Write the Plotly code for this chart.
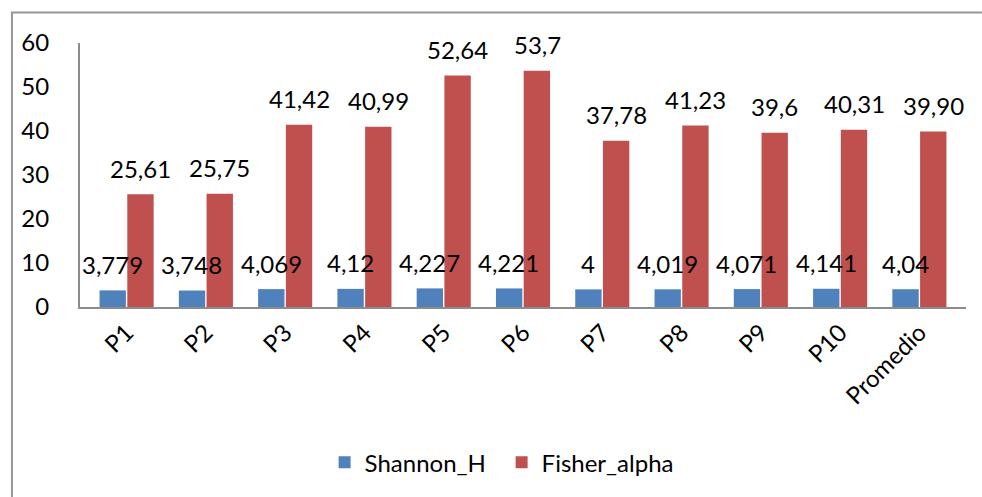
import plotly.graph_objects as go

# Diversity indices per sampling plot (labels use decimal comma)
categories = ["P1", "P2", "P3", "P4", "P5", "P6", "P7", "P8", "P9", "P10", "Promedio"]
shannon_labels = ["3,779", "3,748", "4,069", "4,12", "4,227", "4,221", "4", "4,019", "4,071", "4,141", "4,04"]
fisher_labels = ["25,61", "25,75", "41,42", "40,99", "52,64", "53,7", "37,78", "41,23", "39,6", "40,31", "39,90"]

shannon_values = [float(s.replace(",", ".")) for s in shannon_labels]
fisher_values = [float(s.replace(",", ".")) for s in fisher_labels]

FONT = "Lato, Carlito, Calibri, sans-serif"
FS = 24
BLUE = "#4F81BD"
RED = "#C0504D"

fig = go.Figure()
fig.add_trace(go.Bar(name="Shannon_H", x=categories, y=shannon_values,
                     marker=dict(color=BLUE, line=dict(width=0))))
fig.add_trace(go.Bar(name="Fisher_alpha", x=categories, y=fisher_values,
                     marker=dict(color=RED, line=dict(width=0))))

# value labels above each bar
BAR_OFFSET = 14.1
annotations = []
for cat, val, lab in zip(categories, shannon_values, shannon_labels):
    annotations.append(dict(x=cat, y=val, text=lab, showarrow=False, xshift=-BAR_OFFSET,
                            yshift=26, yanchor="middle", font=dict(family=FONT, size=FS, color="black")))
for cat, val, lab in zip(categories, fisher_values, fisher_labels):
    annotations.append(dict(x=cat, y=val, text=lab, showarrow=False, xshift=BAR_OFFSET,
                            yshift=26, yanchor="middle", font=dict(family=FONT, size=FS, color="black")))

# chart-area frame: only the left and top edges fall inside the canvas
frame_path = "M -0.0768,-0.72 L -0.0768,1.1155 L 1.018,1.1155"

fig.update_layout(
    width=982, height=497,
    margin=dict(l=80, r=16, t=43, b=190),
    paper_bgcolor="white", plot_bgcolor="white",
    barmode="group", bargap=0.3, bargroupgap=0.05,
    font=dict(family=FONT, size=FS, color="black"),
    showlegend=True,
    legend=dict(orientation="h", x=0.2761, xanchor="left", y=-0.59, yanchor="middle",
                font=dict(family=FONT, size=FS, color="black"), itemwidth=30,
                entrywidth=132),
    annotations=annotations,
    shapes=[dict(type="path", xref="paper", yref="paper", path=frame_path,
                 line=dict(color="#969696", width=2), layer="below")],
)

fig.update_xaxes(showline=True, linecolor="#8c8c8c", linewidth=2, tickangle=-45,
                 ticks="", showgrid=False, tickfont=dict(family=FONT, size=FS, color="black"))
fig.update_yaxes(range=[0, 60], dtick=10, showline=True, linecolor="#8c8c8c", linewidth=2,
                 ticks="", showgrid=False, zeroline=False, ticklabelstandoff=24,
                 tickfont=dict(family=FONT, size=FS, color="black"))

fig.write_html("out.html")
